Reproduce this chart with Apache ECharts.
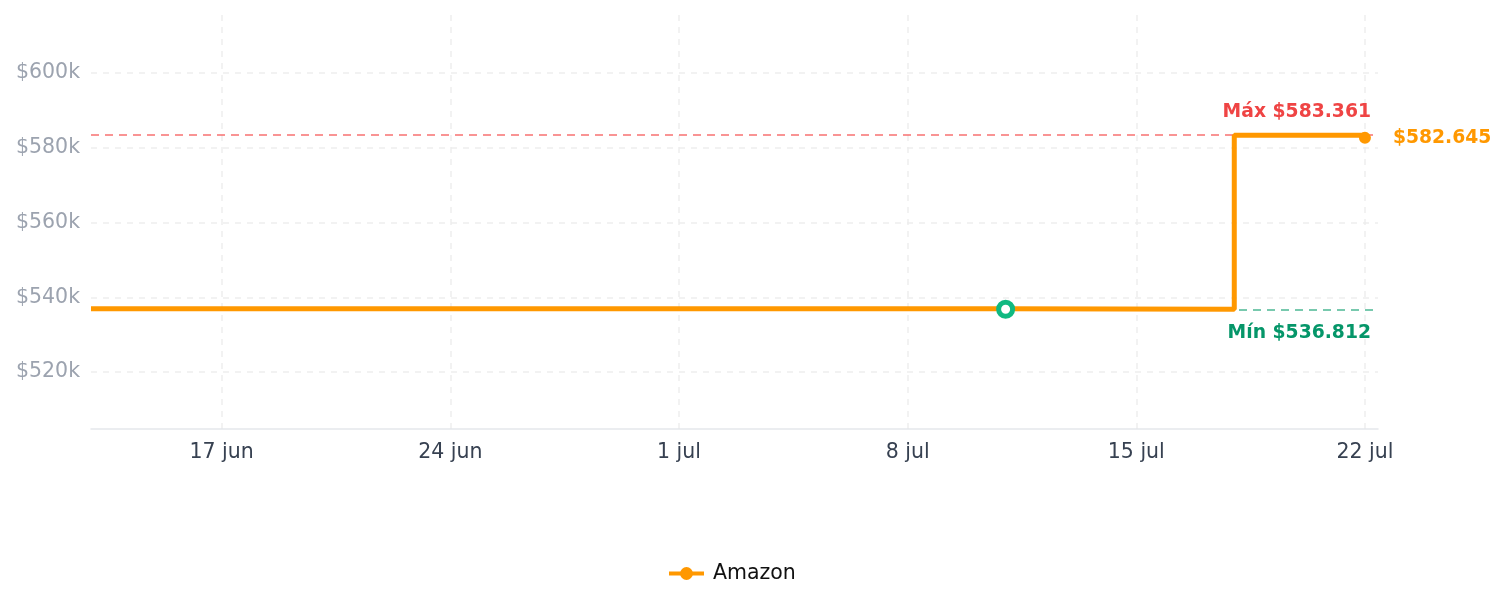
<!DOCTYPE html>
<html>
<head>
<meta charset="utf-8">
<script src="https://cdn.jsdelivr.net/npm/echarts@6/dist/echarts.min.js"></script>
<style>
html,body{margin:0;padding:0;background:#fff;}
#chart{width:1505px;height:607px;}
</style>
</head>
<body>
<div id="chart"></div>
<script>
// ---- data ----
const seriesName = 'Amazon';
const dates = ['2024-06-13', '2024-07-11', '2024-07-18', '2024-07-22'];
const values = [536960, 536812, 583361, 582645];
const xTickDates = ['2024-06-17', '2024-06-24', '2024-07-01', '2024-07-08', '2024-07-15', '2024-07-22'];
const yTickValues = [520000, 540000, 560000, 580000, 600000];
const monthNames = ['ene', 'feb', 'mar', 'abr', 'may', 'jun', 'jul', 'ago', 'sep', 'oct', 'nov', 'dic'];
const xMinDate = '2024-06-13T00:00:00';
const xMaxDate = '2024-07-22T09:36:00';
const yMin = 504800;
const yMax = 615500;

function ts(s) { return new Date(s.length === 10 ? s + 'T00:00:00' : s).getTime(); }
function money(v) { return '$' + String(Math.round(v)).replace(/\B(?=(\d{3})+(?!\d))/g, '.'); }

const seriesData = dates.map((d, i) => [ts(d), values[i]]);
let minIdx = 0, maxIdx = 0;
values.forEach((v, i) => { if (v < values[minIdx]) minIdx = i; if (v > values[maxIdx]) maxIdx = i; });
const lastIdx = values.length - 1;

const chart = echarts.init(document.getElementById('chart'));
chart.setOption({
  animation: false,
  grid: { left: 91, right: 127, top: 15, bottom: 178, outerBoundsMode: 'none' },
  legend: {
    bottom: 18,
    left: 662,
    itemWidth: 35,
    itemHeight: 16,
    itemGap: 10,
    lineStyle: { width: 4 },
    textStyle: { fontSize: 20.5, color: '#111', fontFamily: 'DejaVu Sans', padding: [0, 0, 0, 4] },
    data: [seriesName]
  },
  xAxis: {
    type: 'value',
    min: ts(xMinDate),
    max: ts(xMaxDate),
    axisLine: { show: true, lineStyle: { color: '#e5e7eb', width: 1.5 } },
    axisTick: { show: false, customValues: xTickDates.map(ts) },
    axisLabel: {
      customValues: xTickDates.map(ts),
      fontSize: 20.5,
      color: '#374151',
      fontFamily: 'DejaVu Sans',
      margin: 13,
      formatter: function (v) { const d = new Date(v); return d.getDate() + ' ' + monthNames[d.getMonth()]; }
    },
    splitLine: { show: true, lineStyle: { color: '#eeeeee', type: [6, 6], width: 1.5 } }
  },
  yAxis: {
    type: 'value',
    min: yMin,
    max: yMax,
    axisLine: { show: false },
    axisTick: { show: false, customValues: yTickValues },
    axisLabel: {
      customValues: yTickValues,
      fontSize: 20.5,
      color: '#9ca3af',
      fontFamily: 'DejaVu Sans',
      margin: 11,
      formatter: function (v) { return '$' + Math.round(v / 1000) + 'k'; }
    },
    splitLine: { show: true, lineStyle: { color: '#eeeeee', type: [6, 6], width: 1.5 } }
  },
  series: [{
    name: seriesName,
    type: 'line',
    step: 'end',
    data: seriesData,
    symbol: 'circle',
    symbolSize: 10,
    showSymbol: false,
    color: '#ff9800',
    lineStyle: { width: 5, color: '#ff9800' },
    itemStyle: { color: '#ff9800' },
    markLine: {
      silent: true,
      symbol: 'none',
      z: 1,
      data: [
        {
          yAxis: values[maxIdx],
          lineStyle: { color: '#f87171', type: [8, 6], width: 1.5 },
          label: {
            position: 'insideEndTop',
            formatter: 'Máx ' + money(values[maxIdx]),
            color: '#ef4444', fontWeight: 'bold', fontSize: 18.75, fontFamily: 'DejaVu Sans',
            distance: [7, 14]
          }
        },
        {
          yAxis: values[minIdx],
          lineStyle: { color: '#4cb894', type: [8, 6], width: 1.5 },
          label: {
            position: 'insideEndBottom',
            formatter: 'Mín ' + money(values[minIdx]),
            color: '#059669', fontWeight: 'bold', fontSize: 18.75, fontFamily: 'DejaVu Sans',
            distance: [7, 14]
          }
        }
      ]
    },
    markPoint: {
      silent: true,
      data: [
        {
          coord: seriesData[minIdx],
          symbol: 'circle',
          symbolSize: 14,
          itemStyle: { color: '#ffffff', borderColor: '#10b981', borderWidth: 5 },
          label: { show: false }
        },
        {
          coord: seriesData[lastIdx],
          symbol: 'circle',
          symbolSize: 12,
          itemStyle: { color: '#ff9800' },
          label: {
            show: true,
            position: 'right',
            distance: 22,
            formatter: money(values[lastIdx]),
            color: '#ff9800', fontWeight: 'bold', fontSize: 18.75, fontFamily: 'DejaVu Sans'
          }
        }
      ]
    }
  }]
});
</script>
</body>
</html>
